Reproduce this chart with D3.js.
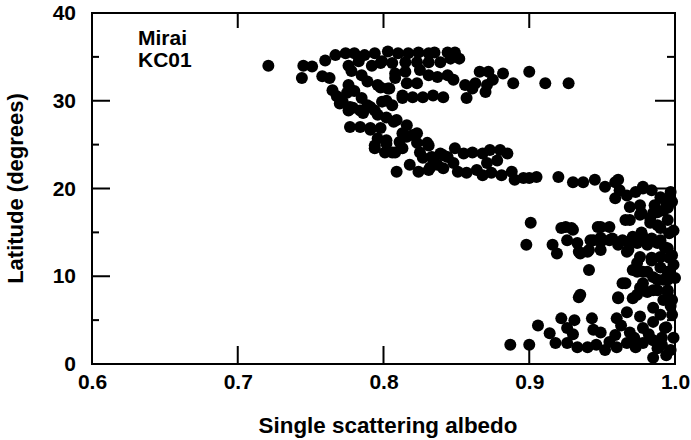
<!DOCTYPE html>
<html>
<head>
<meta charset="utf-8">
<script src="https://cdn.jsdelivr.net/npm/d3@7"></script>
<style>
  body { margin: 0; background: #fff; }
  svg { display: block; font-family: "Liberation Sans", Arial, Helvetica, sans-serif; font-weight: bold; }
</style>
</head>
<body>
<svg id="chart" width="691" height="440"></svg>
<script>
// Single scattering albedo vs latitude (Mirai KC01)

// [albedo, latitude] pairs, grouped by band
const northBand = [
    [0.721, 34.0], [0.745, 34.0], [0.751, 33.9], [0.744, 32.6], [0.760, 34.6], [0.758, 32.8],
    [0.763, 32.6], [0.767, 35.2], [0.774, 35.4], [0.780, 35.4], [0.787, 35.2], [0.794, 35.4],
    [0.803, 35.6], [0.810, 35.4], [0.765, 31.2], [0.768, 30.5], [0.772, 29.9], [0.776, 31.8],
    [0.778, 33.4], [0.785, 32.9], [0.783, 34.5], [0.792, 34.0], [0.799, 34.5], [0.806, 34.3],
    [0.789, 32.2], [0.796, 31.8], [0.780, 31.1], [0.785, 30.3], [0.789, 29.5], [0.799, 29.9],
    [0.803, 31.4], [0.808, 32.6], [0.813, 30.6], [0.806, 29.5], [0.817, 35.4], [0.824, 35.5],
    [0.831, 35.4], [0.835, 35.5], [0.844, 35.5], [0.849, 35.5], [0.852, 34.8], [0.846, 34.8],
    [0.839, 34.4], [0.831, 34.4], [0.823, 34.4], [0.815, 34.4], [0.798, 34.3], [0.776, 34.0],
    [0.808, 33.1], [0.815, 33.3], [0.825, 33.5], [0.831, 32.9], [0.837, 32.7], [0.844, 32.9],
    [0.848, 32.4], [0.856, 31.8], [0.863, 32.0], [0.866, 33.3], [0.872, 33.3], [0.875, 32.4],
    [0.871, 31.8], [0.870, 31.0], [0.882, 33.1], [0.889, 32.0], [0.900, 33.3], [0.911, 32.0],
    [0.927, 32.0], [0.861, 31.4], [0.857, 30.3], [0.841, 30.4], [0.834, 30.6], [0.827, 30.4],
    [0.820, 30.4], [0.813, 30.3], [0.804, 31.4], [0.798, 31.5], [0.816, 32.0], [0.823, 32.0],
    [0.802, 30.0], [0.775, 30.9], [0.770, 29.7], [0.779, 29.2]
];

const midBand = [
    [0.777, 29.3], [0.784, 28.9], [0.791, 29.3], [0.796, 28.4], [0.802, 28.1], [0.809, 27.8],
    [0.816, 27.2], [0.777, 27.0], [0.784, 27.0], [0.791, 26.9], [0.798, 26.9], [0.776, 28.9],
    [0.794, 28.9], [0.786, 28.6], [0.807, 27.6], [0.796, 25.7], [0.794, 24.9], [0.802, 25.1],
    [0.801, 24.1], [0.808, 24.1], [0.811, 25.3], [0.816, 25.9], [0.823, 26.3], [0.831, 24.9],
    [0.825, 24.1], [0.827, 23.5], [0.833, 23.6], [0.839, 24.0], [0.844, 23.6], [0.849, 24.6],
    [0.855, 24.0], [0.861, 24.1], [0.868, 24.0], [0.873, 24.4], [0.880, 24.4], [0.885, 24.0],
    [0.878, 23.2], [0.871, 22.9], [0.809, 21.9], [0.818, 22.7], [0.824, 21.9], [0.831, 22.1],
    [0.837, 22.7], [0.841, 22.3], [0.848, 22.9], [0.851, 21.9], [0.857, 21.8], [0.864, 22.1],
    [0.868, 21.5], [0.874, 21.8], [0.881, 21.5], [0.888, 21.9], [0.890, 21.0], [0.896, 21.2],
    [0.900, 21.2], [0.905, 21.3], [0.813, 26.3], [0.820, 26.1], [0.813, 24.6], [0.823, 25.2],
    [0.830, 25.2], [0.806, 24.1], [0.802, 25.5], [0.794, 24.6], [0.832, 22.4], [0.841, 23.8],
    [0.834, 23.5], [0.791, 26.7]
];

const southBand = [
    [0.920, 21.3], [0.930, 20.7], [0.937, 20.7], [0.945, 21.0], [0.952, 20.2], [0.959, 20.7],
    [0.962, 19.8], [0.959, 18.9], [0.967, 19.2], [0.973, 19.6], [0.978, 20.2], [0.984, 19.8],
    [0.990, 19.0], [0.998, 18.5], [0.969, 17.9], [0.976, 18.1], [0.986, 18.1], [0.992, 17.5],
    [0.977, 17.2], [0.985, 17.2], [0.961, 21.0], [0.978, 20.0], [0.995, 17.9], [0.988, 17.3],
    [0.966, 16.4], [0.901, 16.1], [0.898, 13.6], [0.922, 15.5], [0.930, 15.3], [0.916, 13.6],
    [0.919, 12.6], [0.926, 14.1], [0.933, 13.8], [0.934, 12.8], [0.941, 13.0], [0.944, 14.1],
    [0.947, 15.6], [0.955, 15.6], [0.949, 13.9], [0.957, 14.3], [0.964, 14.1], [0.967, 12.8],
    [0.971, 14.5], [0.977, 15.0], [0.969, 16.4], [0.976, 17.0], [0.983, 16.6], [0.988, 15.8],
    [0.995, 16.4], [0.995, 17.8], [0.996, 14.9], [0.990, 14.1], [0.984, 14.3], [0.995, 13.2],
    [0.990, 12.2], [0.996, 12.1], [0.984, 12.1], [0.974, 11.5], [0.978, 10.5], [0.971, 10.7],
    [0.941, 10.7], [0.964, 9.2], [0.985, 9.9], [0.992, 9.6], [1.000, 9.8], [0.996, 10.5],
    [0.976, 8.7], [0.981, 8.2], [0.988, 8.4], [0.995, 8.2], [0.961, 7.5], [0.971, 7.5],
    [0.934, 7.6], [0.992, 7.3], [0.998, 7.3], [0.985, 6.4], [0.967, 5.9], [0.960, 5.2],
    [0.976, 5.4], [0.990, 5.6], [0.998, 5.6], [0.985, 4.8], [0.994, 4.2], [0.922, 5.2],
    [0.931, 5.0], [0.943, 5.2], [0.906, 4.4], [0.926, 4.1], [0.944, 3.9], [0.914, 3.5],
    [0.959, 3.3], [0.969, 3.6], [0.978, 4.1], [0.918, 2.4], [0.926, 2.4], [0.933, 1.9],
    [0.940, 1.9], [0.946, 2.2], [0.952, 1.6], [0.960, 1.9], [0.967, 2.4], [0.973, 1.9],
    [0.978, 2.4], [0.985, 2.7], [0.991, 3.0], [0.993, 4.1], [0.988, 1.8], [0.994, 1.0],
    [0.985, 0.7], [0.887, 2.2], [0.900, 2.2], [0.935, 12.6], [0.940, 12.8], [0.942, 14.1],
    [0.949, 14.4], [0.949, 13.0], [0.955, 14.1], [0.961, 13.6], [0.968, 13.9], [0.968, 13.0],
    [0.974, 13.8], [0.978, 14.5], [0.981, 13.6], [0.988, 13.8], [0.993, 13.3], [0.998, 12.4],
    [0.976, 12.2], [0.984, 11.8], [0.974, 10.5], [0.981, 10.5], [0.990, 11.0], [0.995, 10.5],
    [0.966, 9.2], [0.978, 9.2], [0.988, 9.6], [0.995, 9.6], [0.985, 8.4], [0.995, 8.4],
    [0.935, 7.9], [0.961, 7.6], [0.974, 7.9], [0.925, 15.6], [0.929, 15.5], [0.949, 15.6],
    [0.983, 16.1], [0.990, 15.5], [0.930, 3.4], [0.949, 3.6], [0.955, 2.5], [0.963, 4.4],
    [0.972, 3.0], [0.982, 3.4], [0.991, 2.2], [0.997, 1.6], [0.999, 3.0], [0.997, 6.6],
    [0.999, 11.3], [0.999, 15.2], [0.993, 18.7], [0.997, 19.6]
];

const xTicks = [0.6, 0.7, 0.8, 0.9, 1.0];
const yTicks = [0, 10, 20, 30, 40];
const yMinorTicks = [5, 15, 25, 35];
const stationLabel = ['Mirai', 'KC01'];

const svg = d3.select('#chart');
const margin = { left: 92, right: 16, top: 13, bottom: 76 };
const width = 691, height = 440;

const x = d3.scaleLinear().domain([0.6, 1.0]).range([margin.left, width - margin.right]);
const y = d3.scaleLinear().domain([0, 40]).range([height - margin.bottom, margin.top]);

const fmt = d3.format('.1f');

// points
const allPoints = northBand.concat(midBand, southBand);
svg.append('g')
    .selectAll('circle')
    .data(allPoints)
    .join('circle')
    .attr('cx', d => x(d[0]))
    .attr('cy', d => y(d[1]))
    .attr('r', 6)
    .attr('fill', '#000');

// frame
svg.append('rect')
    .attr('x', x(0.6))
    .attr('y', y(40))
    .attr('width', x(1.0) - x(0.6))
    .attr('height', y(0) - y(40))
    .attr('fill', 'none')
    .attr('stroke', '#000')
    .attr('stroke-width', 2);

// tick labels from the axes
const axisGroup = svg.append('g').attr('class', 'axes');

axisGroup.append('g')
    .attr('transform', `translate(0,${y(0)})`)
    .call(d3.axisBottom(x).tickValues(xTicks).tickFormat(fmt).tickSize(0).tickPadding(10));

axisGroup.append('g')
    .attr('transform', `translate(${x(0.6)},0)`)
    .call(d3.axisLeft(y).tickValues(yTicks).tickSize(0).tickPadding(16));

axisGroup.selectAll('.domain').remove();
axisGroup.selectAll('.tick line').remove();
axisGroup.selectAll('.tick text')
    .attr('fill', '#000')
    .style('font-size', '21px')
    .style('font-weight', 'bold')
    .style('font-family', '"Liberation Sans", Arial, Helvetica, sans-serif');

// tick marks pointing into the plot, drawn as thin filled bars
const tickGroup = svg.append('g').attr('fill', '#000');

function xTickMarks(vals, edge, len) {
    tickGroup.append('g').selectAll('rect')
        .data(vals)
        .join('rect')
        .attr('x', d => x(d) - 1)
        .attr('width', 2)
        .attr('y', len < 0 ? edge + len : edge)
        .attr('height', Math.abs(len));
}

function yTickMarks(vals, edge, len) {
    tickGroup.append('g').selectAll('rect')
        .data(vals)
        .join('rect')
        .attr('y', d => y(d) - 1)
        .attr('height', 2)
        .attr('x', len < 0 ? edge + len : edge)
        .attr('width', Math.abs(len));
}

xTickMarks(xTicks, y(0), -18);
xTickMarks(xTicks, y(40), 15);
yTickMarks(yTicks, x(0.6), 18);
yTickMarks(yMinorTicks, x(0.6), 7);
yTickMarks(yTicks, x(1.0), -20);
yTickMarks(yMinorTicks, x(1.0), -8);

// station label
svg.append('g')
    .selectAll('text')
    .data(stationLabel)
    .join('text')
    .attr('x', 138)
    .attr('y', (d, i) => 45 + i * 22)
    .attr('font-size', 21)
    .text(d => d);

// axis titles
svg.append('text')
    .attr('x', 388)
    .attr('y', 433)
    .attr('text-anchor', 'middle')
    .attr('font-size', 22.4)
    .text('Single scattering albedo');

svg.append('text')
    .attr('transform', `translate(23,${(y(0) + y(40)) / 2}) rotate(-90)`)
    .attr('text-anchor', 'middle')
    .attr('font-size', 22)
    .text('Latitude (degrees)');
</script>
</body>
</html>
